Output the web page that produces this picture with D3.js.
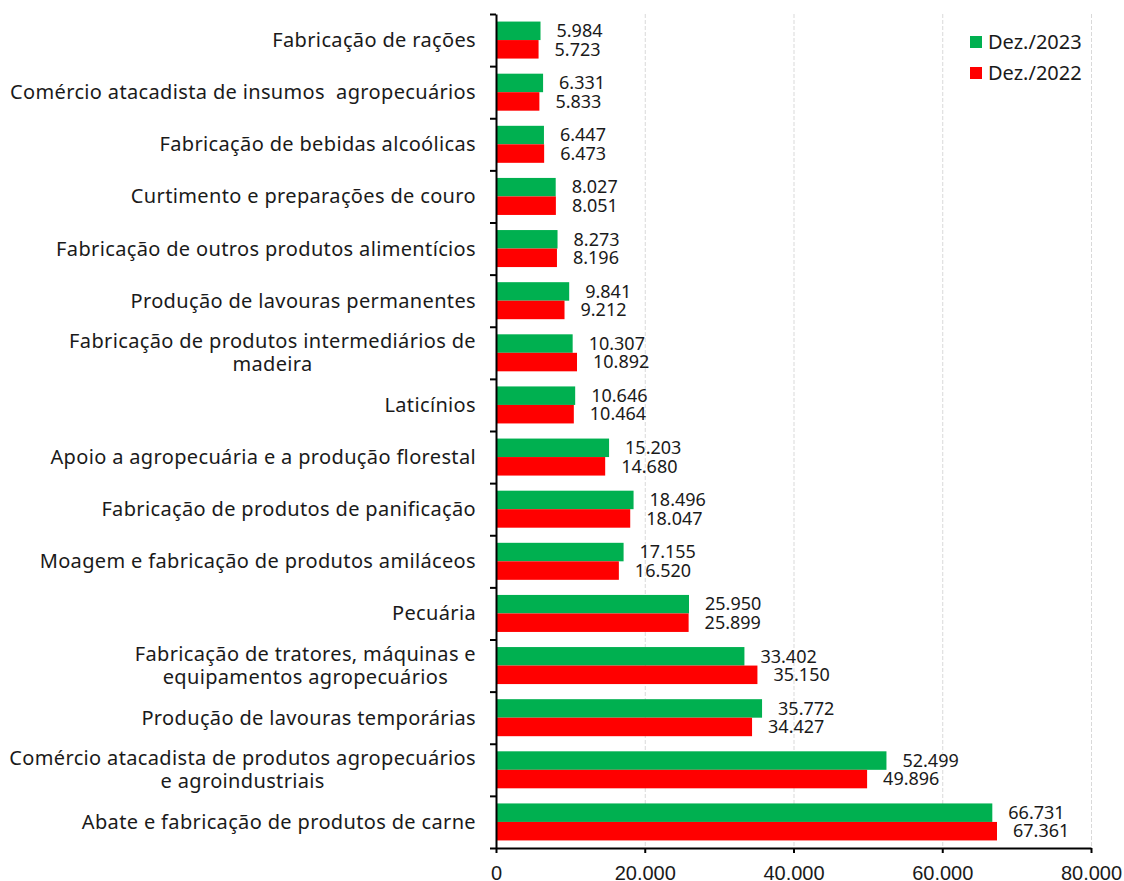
<!DOCTYPE html>
<html>
<head>
<meta charset="utf-8">
<script src="https://cdn.jsdelivr.net/npm/d3@7"></script>
<style>
    body { margin: 0; background: #fff; }
    svg { font-family: "Noto Sans", sans-serif; }
    .grid line { stroke: #d9d9d9; stroke-dasharray: 4,2; }
    .axis path, .axis line { stroke: #000; stroke-width: 2; }
    .axis text { font-size: 20px; fill: #1a1a1a; }
</style>
</head>
<body>
<div id="chart"></div>
<script>
// Categories, top to bottom ("|" marks a line break)
const categories = [
    'Fabricação de rações',
    'Comércio atacadista de insumos  agropecuários',
    'Fabricação de bebidas alcoólicas',
    'Curtimento e preparações de couro',
    'Fabricação de outros produtos alimentícios',
    'Produção de lavouras permanentes',
    'Fabricação de produtos intermediários de|madeira',
    'Laticínios',
    'Apoio a agropecuária e a produção florestal',
    'Fabricação de produtos de panificação',
    'Moagem e fabricação de produtos amiláceos',
    'Pecuária',
    'Fabricação de tratores, máquinas e|equipamentos agropecuários',
    'Produção de lavouras temporárias',
    'Comércio atacadista de produtos agropecuários|e agroindustriais',
    'Abate e fabricação de produtos de carne'
];
const dez2023 = [5984, 6331, 6447, 8027, 8273, 9841, 10307, 10646, 15203, 18496, 17155, 25950, 33402, 35772, 52499, 66731];
const dez2022 = [5723, 5833, 6473, 8051, 8196, 9212, 10892, 10464, 14680, 18047, 16520, 25899, 35150, 34427, 49896, 67361];
const seriesNames = ['Dez./2023', 'Dez./2022'];
const xTicks = [0, 20000, 40000, 60000, 80000];

const colors = { 'Dez./2023': '#00B050', 'Dez./2022': '#FF0000' };

const locale = d3.formatLocale({ decimal: ',', thousands: '.', grouping: [3], currency: ['R$', ''] });
const fmt = locale.format(',d');

const W = 1124, H = 881;
const margin = { top: 14, right: 33, bottom: 33, left: 496 };
const width = W - margin.left - margin.right;
const height = H - margin.top - margin.bottom;

const data = categories.map((c, i) => ({ cat: c, 'Dez./2023': dez2023[i], 'Dez./2022': dez2022[i] }));

const svg = d3.select('#chart').append('svg')
    .attr('width', W)
    .attr('height', H);

const g = svg.append('g')
    .attr('transform', `translate(${margin.left},${margin.top})`);

const x = d3.scaleLinear().domain([0, 80000]).range([0, width]);
const y = d3.scaleBand().domain(categories).range([0, height]).paddingInner(0.29).paddingOuter(0.145);
const ySub = d3.scaleBand().domain(seriesNames).range([0, y.bandwidth()]);

// vertical dashed grid
g.append('g')
    .attr('class', 'grid')
    .selectAll('line')
    .data(xTicks.slice(1))
    .enter().append('line')
    .attr('x1', d => x(d) + 0.5)
    .attr('x2', d => x(d) + 0.5)
    .attr('y1', 0)
    .attr('y2', height);

// bars
const groups = g.selectAll('.cat')
    .data(data)
    .enter().append('g')
    .attr('class', 'cat')
    .attr('transform', d => `translate(0,${y(d.cat)})`);

groups.selectAll('rect')
    .data(d => seriesNames.map(k => ({ key: k, value: d[k] })))
    .enter().append('rect')
    .attr('x', 0)
    .attr('y', d => ySub(d.key))
    .attr('width', d => x(d.value))
    .attr('height', ySub.bandwidth())
    .attr('fill', d => colors[d.key]);

groups.selectAll('text.val')
    .data(d => seriesNames.map(k => ({ key: k, value: d[k] })))
    .enter().append('text')
    .attr('class', 'val')
    .attr('x', d => x(d.value) + 16)
    .attr('y', d => ySub(d.key) + ySub.bandwidth() / 2)
    .attr('dy', '0.35em')
    .attr('font-size', 18)
    .attr('fill', '#1a1a1a')
    .text(d => fmt(d.value));

// x axis
g.append('g')
    .attr('class', 'axis')
    .attr('transform', `translate(0,${height})`)
    .call(d3.axisBottom(x).tickValues(xTicks).tickSize(5).tickSizeOuter(0).tickFormat(fmt))
    .call(a => a.selectAll('text').attr('y', 32).attr('dy', 0));

// y axis: ticks at category boundaries
const yEdge = d3.scaleLinear().domain([0, categories.length]).range([0, height]);
g.append('g')
    .attr('class', 'axis')
    .call(d3.axisLeft(yEdge).ticks(categories.length).tickSize(6).tickSizeOuter(0).tickFormat(''));

// category labels (multi-line lines centred, block right-aligned)
const labelRight = -20;
const lineH = 23;
categories.forEach(c => {
    const lines = c.split('|');
    const cy = y(c) + y.bandwidth() / 2;
    const t = g.append('text')
        .attr('font-size', 20)
        .attr('letter-spacing', '0.35px')
        .attr('fill', '#1a1a1a')
        .style('white-space', 'pre');
    lines.forEach((ln, i) => {
        t.append('tspan')
            .attr('y', cy + (i - (lines.length - 1) / 2) * lineH)
            .attr('dy', '0.35em')
            .text(ln);
    });
    if (lines.length === 1) {
        t.attr('text-anchor', 'end').selectAll('tspan').attr('x', labelRight);
    } else {
        const widths = t.selectAll('tspan').nodes().map(n => n.getComputedTextLength());
        const mid = labelRight - d3.max(widths) / 2;
        t.attr('text-anchor', 'middle').selectAll('tspan').attr('x', mid);
    }
});

// legend
const legend = svg.append('g')
    .attr('transform', 'translate(970,36)');
seriesNames.forEach((s, i) => {
    legend.append('rect')
        .attr('x', 0)
        .attr('y', i * 31)
        .attr('width', 12)
        .attr('height', 12)
        .attr('fill', colors[s]);
    legend.append('text')
        .attr('x', 18)
        .attr('y', i * 31 + 6)
        .attr('dy', '0.35em')
        .attr('font-size', 20)
        .attr('fill', '#1a1a1a')
        .text(s);
});
</script>
</body>
</html>
